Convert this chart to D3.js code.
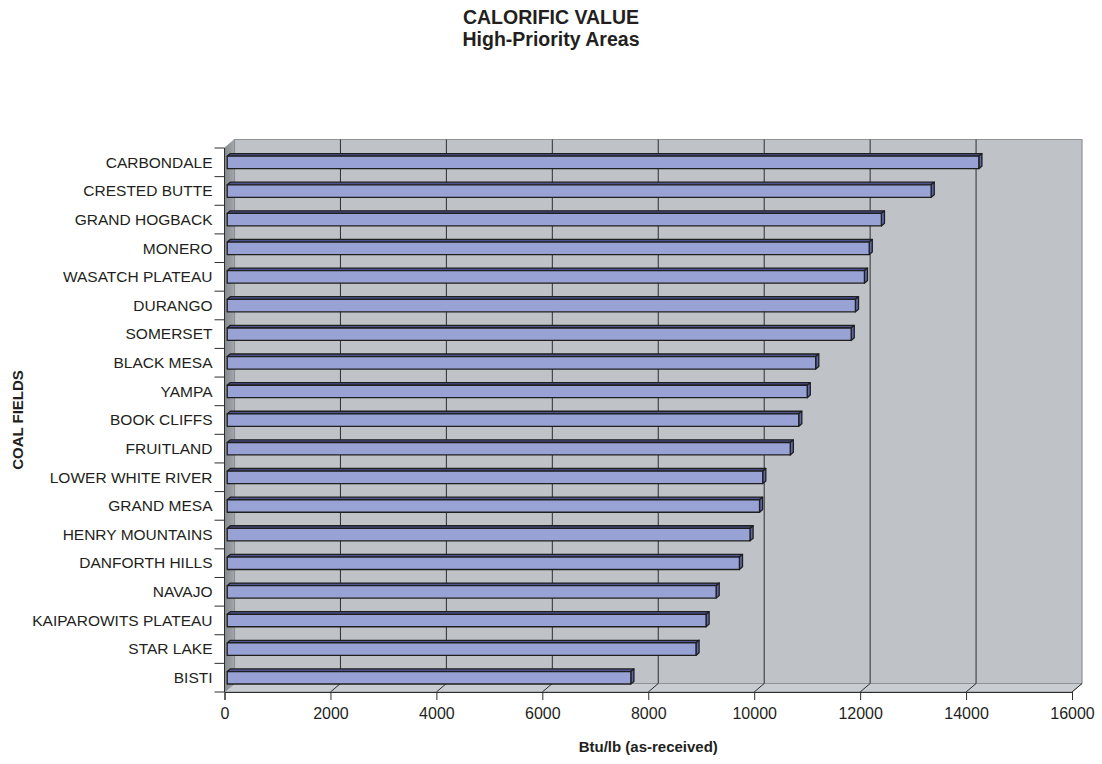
<!DOCTYPE html>
<html>
<head>
<meta charset="utf-8">
<script src="https://cdn.jsdelivr.net/npm/d3@7/dist/d3.min.js"></script>
<style>
  html, body { margin: 0; padding: 0; background: #fff; }
  svg { display: block; font-family: Arial, "Liberation Sans", sans-serif; }
</style>
</head>
<body>
<svg id="chart" width="1102" height="764"></svg>
<script>
const categories = ["CARBONDALE","CRESTED BUTTE","GRAND HOGBACK","MONERO","WASATCH PLATEAU","DURANGO","SOMERSET","BLACK MESA","YAMPA","BOOK CLIFFS","FRUITLAND","LOWER WHITE RIVER","GRAND MESA","HENRY MOUNTAINS","DANFORTH HILLS","NAVAJO","KAIPAROWITS PLATEAU","STAR LAKE","BISTI"];
const values = [14190,13290,12350,12120,12030,11860,11780,11110,10950,10790,10630,10110,10050,9870,9670,9230,9040,8850,7620];
const xTicks = [0,2000,4000,6000,8000,10000,12000,14000,16000];
const titleLines = ["CALORIFIC VALUE","High-Priority Areas"];
const xTitle = "Btu/lb (as-received)";
const yTitle = "COAL FIELDS";

const svg = d3.select("#chart");
const X0 = 224.5, X1 = 1072, Y0 = 148, Y1 = 692;
const DX = 10, DY = 8.5;
const x = d3.scaleLinear().domain([0,16000]).range([X0,X1]);
const y = d3.scaleBand().domain(categories).range([Y0,Y1]).paddingInner(0).paddingOuter(0);
const proj = (px, py, z) => [px + z*DX, py - z*DY];
const poly = pts => pts.map(p => p.join(",")).join(" ");

// Titles
svg.append("g").selectAll("text").data(titleLines).join("text")
  .attr("x", 551).attr("y", (d,i) => 24 + i*22)
  .attr("text-anchor","middle").attr("font-weight","bold").attr("font-size", 19.5)
  .attr("fill","#231f20").text(d => d);

// Back wall
svg.append("polygon")
  .attr("points", poly([proj(X0,Y0,1), proj(X1,Y0,1), proj(X1,Y1,1), proj(X0,Y1,1)]))
  .attr("fill","#bfc3c7").attr("stroke","#8f9397").attr("stroke-width",1.2);

// Left wall
const defs = svg.append("defs");
const lg = defs.append("linearGradient").attr("id","lw").attr("x1","0").attr("x2","1").attr("y1","0").attr("y2","0");
lg.append("stop").attr("offset","0").attr("stop-color","#858a8e");
lg.append("stop").attr("offset","1").attr("stop-color","#a3a7ab");
svg.append("polygon")
  .attr("points", poly([[X0,Y0], proj(X0,Y0,1), proj(X0,Y1,1), [X0,Y1]]))
  .attr("fill","url(#lw)").attr("stroke","#8a8e92").attr("stroke-width",0.8);

// Floor
svg.append("polygon")
  .attr("points", poly([[X0,Y1], [X1,Y1], proj(X1,Y1,1), proj(X0,Y1,1)]))
  .attr("fill","#c9ccd0").attr("stroke","#8f9397").attr("stroke-width",1);

// Gridlines on back wall and floor
const grid = svg.append("g");
grid.selectAll("line.g").data(xTicks.slice(1,-1)).join("line").attr("class","g")
  .attr("x1", d => proj(x(d),Y0,1)[0]).attr("x2", d => proj(x(d),Y1,1)[0])
  .attr("y1", proj(0,Y0,1)[1]).attr("y2", proj(0,Y1,1)[1])
  .attr("stroke","#2e2e2e").attr("stroke-width",1);
grid.selectAll("line.f").data(xTicks.slice(1)).join("line").attr("class","f")
  .attr("x1", d => x(d)).attr("y1", Y1)
  .attr("x2", d => proj(x(d),Y1,1)[0]).attr("y2", proj(0,Y1,1)[1])
  .attr("stroke","#2e2e2e").attr("stroke-width",1);

// Bars
const h = y.step()*0.435;
const zf = 0.27, zb = 0.58;
const bars = svg.append("g");
categories.forEach((c,i) => {
  const v = values[i];
  const yb = y(c) + (y.step()-h)/2 + 2.4;
  const xa = x(0), xb = x(v);
  const g = bars.append("g").attr("stroke","#1f1f1f").attr("stroke-width",1.3).attr("stroke-linejoin","round");
  g.append("polygon").attr("points", poly([proj(xa,yb,zf), proj(xb,yb,zf), proj(xb,yb,zb), proj(xa,yb,zb)])).attr("fill","#4d5591");
  g.append("polygon").attr("points", poly([proj(xb,yb,zf), proj(xb,yb,zb), proj(xb,yb+h,zb), proj(xb,yb+h,zf)])).attr("fill","#5c67a8");
  g.append("polygon").attr("points", poly([proj(xa,yb,zf), proj(xb,yb,zf), proj(xb,yb+h,zf), proj(xa,yb+h,zf)])).attr("fill","#98a2d5");
});

// Left axis
const ax = svg.append("g").attr("stroke","#2e2e2e").attr("stroke-width",1);
ax.append("line").attr("x1",X0).attr("x2",X0).attr("y1",Y0).attr("y2",Y1);
const bounds = categories.map(c => y(c)).concat([Y1]);
ax.selectAll("line.t").data(bounds).join("line").attr("class","t")
  .attr("x1",X0-10).attr("x2",X0).attr("y1",d=>d).attr("y2",d=>d);

svg.append("g").selectAll("text").data(categories).join("text")
  .attr("x", 212.5).attr("y", d => y(d) + y.step()/2 + 5.3)
  .attr("text-anchor","end").attr("font-size",15.5).attr("fill","#231f20").text(d => d);

// Bottom axis
const xAxis = svg.append("g").attr("transform",`translate(0,${Y1})`)
  .call(d3.axisBottom(x).tickValues(xTicks).tickSize(8).tickPadding(8).tickFormat(d3.format("d")));
xAxis.select(".domain").attr("stroke","#2e2e2e");
xAxis.selectAll(".tick line").attr("stroke","#2e2e2e");
xAxis.selectAll(".tick text").attr("font-size",16).attr("fill","#231f20").attr("font-family","Arial, 'Liberation Sans', sans-serif");

// Axis titles
svg.append("text").attr("x",(X0+X1)/2).attr("y",752).attr("text-anchor","middle")
  .attr("font-weight","bold").attr("font-size",15).attr("fill","#231f20").text(xTitle);
svg.append("text").attr("transform","translate(23,420) rotate(-90)").attr("text-anchor","middle")
  .attr("font-weight","bold").attr("font-size",15).attr("fill","#231f20").text(yTitle);
</script>
</body>
</html>
